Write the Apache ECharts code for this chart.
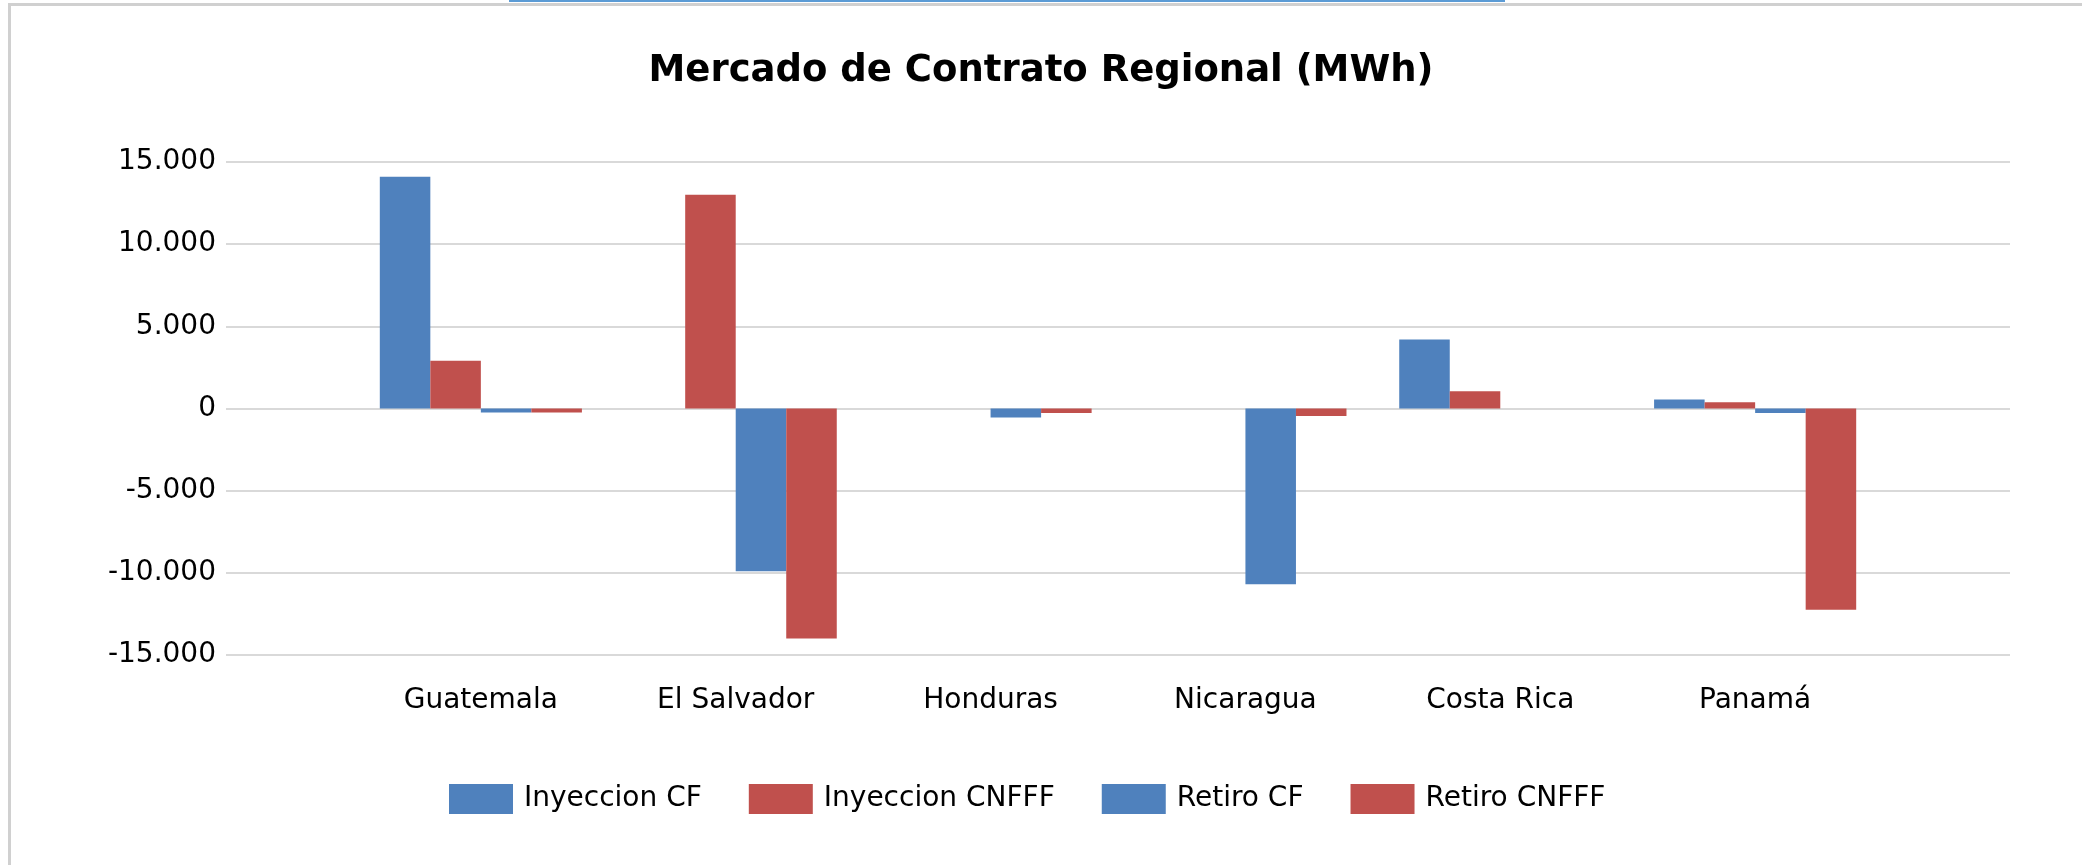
<!DOCTYPE html>
<html>
<head>
<meta charset="utf-8">
<title>Mercado de Contrato Regional (MWh)</title>
<script src="https://cdn.jsdelivr.net/npm/echarts@6/dist/echarts.min.js"></script>
<style>
  html, body { margin: 0; padding: 0; background: #fff; }
  #chart { width: 2082px; height: 865px; }
</style>
</head>
<body>
<div id="chart"></div>
<script>
// countries on the x axis
const categories = ['Guatemala', 'El Salvador', 'Honduras', 'Nicaragua', 'Costa Rica', 'Panamá']

// MWh per country (0 = no bar)
const inyeccionCF = [14100, 0, 0, 0, 4200, 550]
const inyeccionCNFFF = [2900, 13000, 0, 0, 1050, 380]
const retiroCF = [-250, -9900, -550, -10700, 0, -280]
const retiroCNFFF = [-250, -14000, -280, -450, 0, -12250]

const seriesNames = ['Inyeccion CF', 'Inyeccion CNFFF', 'Retiro CF', 'Retiro CNFFF']
const seriesColors = ['#4F81BD', '#C0504D', '#4F81BD', '#C0504D']

const yTicks = [-15000, -10000, -5000, 0, 5000, 10000, 15000]

const FONT = 'DejaVu Sans'

// excel puts the countries on the inner ticks, with an empty slot at each end
const axisData = ['', ...categories, '']
const pad = (arr) => [null, ...arr.map((v) => (v === 0 ? null : v)), null]

function fmtThousands(v) {
  const s = String(Math.abs(v)).replace(/\B(?=(\d{3})+(?!\d))/g, '.')
  return v < 0 ? '-' + s : s
}

const chart = echarts.init(document.getElementById('chart'))

chart.setOption({
  animation: false,
  backgroundColor: '#ffffff',
  textStyle: { fontFamily: FONT },
  title: {
    text: 'Mercado de Contrato Regional (MWh)',
    left: 'center',
    top: 48,
    textStyle: {
      fontFamily: FONT,
      fontSize: 37,
      fontWeight: 'bold',
      color: '#000000',
    },
  },
  legend: {
    data: seriesNames,
    left: 444,
    top: 779,
    itemWidth: 64,
    itemHeight: 30,
    itemGap: 47,
    icon: 'rect',
    textStyle: {
      fontFamily: FONT,
      fontSize: 28,
      color: '#000000',
      padding: [0, 0, 0, 6],
    },
  },
  grid: { left: 226, right: 72, top: 162, bottom: 210 },
  xAxis: {
    type: 'category',
    data: axisData,
    boundaryGap: false,
    axisLine: { show: false },
    axisTick: { show: false },
    axisLabel: {
      interval: 0,
      margin: 32,
      fontFamily: FONT,
      fontSize: 28,
      color: '#000000',
    },
  },
  yAxis: {
    type: 'value',
    min: yTicks[0],
    max: yTicks[yTicks.length - 1],
    interval: 5000,
    axisLine: { show: false },
    axisTick: { show: false },
    axisLabel: {
      margin: 10,
      fontFamily: FONT,
      fontSize: 28,
      color: '#000000',
      formatter: fmtThousands,
    },
    splitLine: { lineStyle: { color: '#d9d9d9', width: 2 } },
  },
  series: [inyeccionCF, inyeccionCNFFF, retiroCF, retiroCNFFF].map((values, i) => ({
    name: seriesNames[i],
    type: 'bar',
    data: pad(values),
    barGap: '0%',
    barCategoryGap: '20.7%',
    itemStyle: { color: seriesColors[i] },
  })),
  graphic: [
    // screenshot frame
    { type: 'rect', shape: { x: 8, y: 3, width: 2074, height: 3 }, style: { fill: '#d0d0d0' } },
    { type: 'rect', shape: { x: 8, y: 3, width: 3, height: 862 }, style: { fill: '#d0d0d0' } },
    { type: 'rect', shape: { x: 509, y: 0, width: 996, height: 2 }, style: { fill: '#5b9bd5' } },
  ],
})
</script>
</body>
</html>
